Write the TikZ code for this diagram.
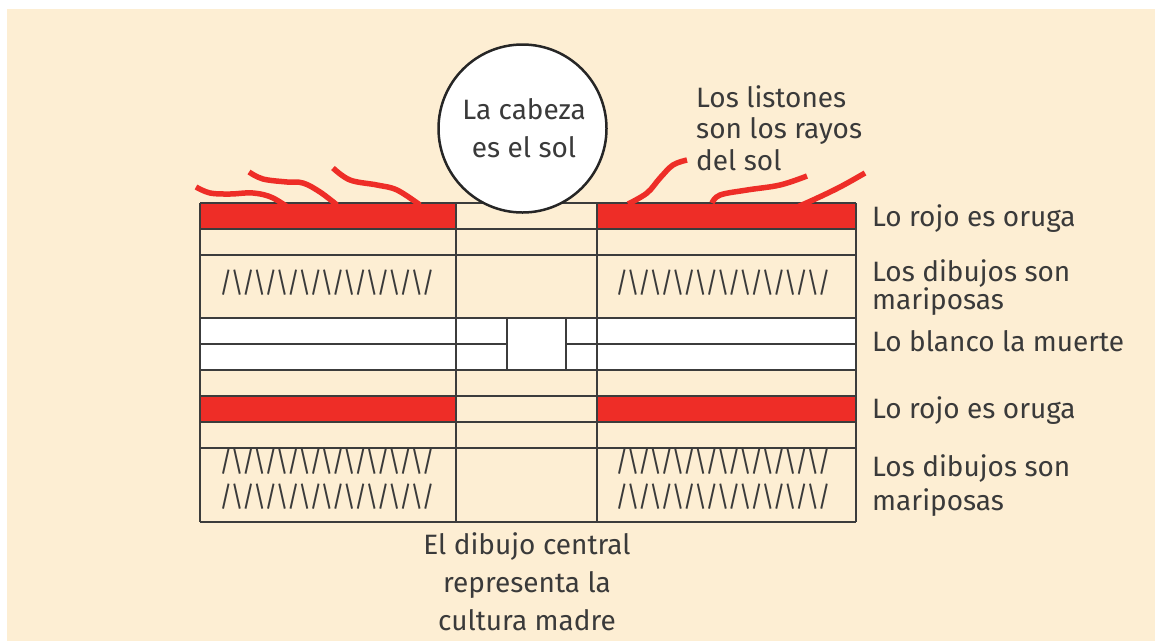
\documentclass[tikz,border=0pt]{standalone}
\usepackage{fontspec}
\setmainfont{Fira Sans}
\definecolor{cream}{HTML}{FDEED3}
\definecolor{rojo}{HTML}{EE2D27}
\definecolor{ink}{HTML}{3A3A3A}
\definecolor{frame}{HTML}{3C3C3C}
\newcommand{\zigtext}{\scalebox{0.86}[1]{/\kern-1.5pt\textbackslash\kern-1.5pt/\kern-1.5pt\textbackslash\kern-1.5pt/\kern-1.5pt\textbackslash\kern-1.5pt/\kern-1.5pt\textbackslash\kern-1.5pt/\kern-1.5pt\textbackslash\kern-1.5pt/\kern-1.5pt\textbackslash\kern-1.5pt/\kern-1.5pt\textbackslash\kern-1.5pt/\kern-1.5pt\textbackslash\kern-1.5pt/\kern-1.5pt\textbackslash\kern-1.5pt/}}
\tikzset{
  lbl/.style={inner sep=0pt, text=ink, font=\fontsize{28}{28}\selectfont, align=left},
  zig/.style={inner sep=0pt, text=ink, font=\fontsize{28}{28}\selectfont},
  gridline/.style={draw=frame, line width=1.5pt},
  ribbon/.style={draw=rojo, line width=5.5pt},
}
\begin{document}
\begin{tikzpicture}[x=1pt,y=-1pt]
\useasboundingbox (0,0) rectangle (1155,641);
\fill[white] (0,0) rectangle (1155,641);
\fill[cream] (7,9) rectangle (1155,641);
% fills
\fill[rojo] (200,203) rectangle (456,229);
\fill[rojo] (597,203) rectangle (856,229);
\fill[white] (200,318) rectangle (856,370);
\fill[rojo] (200,396) rectangle (456,422);
\fill[rojo] (597,396) rectangle (856,422);
% grid lines
\foreach \yy in {203,229,255,318,370,396,422,448,522}
  \draw[gridline] (200,\yy) -- (856,\yy);
\draw[gridline] (200,344) -- (507,344);
\draw[gridline] (566,344) -- (856,344);
\foreach \xx in {200,456,597,856}
  \draw[gridline] (\xx,203) -- (\xx,522);
\draw[gridline] (507,318) -- (507,370);
\draw[gridline] (566,318) -- (566,370);
% ribbons
\draw[ribbon] plot[smooth, tension=0.6] coordinates {(196,187) (210,193) (230,194) (253,193) (273,198) (296,213)};
\draw[ribbon] plot[smooth, tension=0.6] coordinates {(249,172) (263,179) (287,182) (303,183) (320,192) (337,205)};
\draw[ribbon] plot[smooth, tension=0.6] coordinates {(333,168) (350,180) (377,185) (397,190) (420,205)};
\draw[ribbon] plot[smooth, tension=0.6] coordinates {(628,204) (647,193) (660,178) (673,165) (687,160)};
\draw[ribbon] plot[smooth, tension=0.6] coordinates {(712,203) (720,195) (747,190) (780,185) (807,176)};
\draw[ribbon] plot[smooth, tension=0.6] coordinates {(788,211) (813,200) (840,187) (865,173)};
% head
\node[circle, draw=black!85, line width=2.5pt, fill=white, minimum size=168pt, inner sep=0pt] (head) at (522.5,128.5) {};
\node[lbl, align=center, anchor=base, font=\fontsize{28}{38.7}\selectfont] (headtxt) at (524,157.7) {La cabeza\\es el sol};
% zigzags
\node[zig, anchor=center] (z1) at (327,283) {\zigtext};
\node[zig, anchor=center] (z2) at (723,283) {\zigtext};
\node[zig, anchor=center] (z3) at (327,462) {\zigtext};
\node[zig, anchor=center] (z4) at (327,497) {\zigtext};
\node[zig, anchor=center] (z5) at (723,462) {\zigtext};
\node[zig, anchor=center] (z6) at (723,497) {\zigtext};
% labels
\node[lbl, anchor=base west, font=\fontsize{28}{31.5}\selectfont] (listones) at (696,170) {Los listones\\son los rayos\\del sol};
\node[lbl, anchor=base west] (rojo1) at (872,226) {Lo rojo es oruga};
\node[lbl, anchor=base west] (dib1) at (872,309) {Los dibujos son\\mariposas};
\node[lbl, anchor=base west] (blanco) at (872,351) {Lo blanco la muerte};
\node[lbl, anchor=base west] (rojo2) at (872,418) {Lo rojo es oruga};
\node[lbl, anchor=base west, font=\fontsize{28}{33.3}\selectfont] (dib2) at (872,510) {Los dibujos son\\mariposas};
\node[lbl, align=center, anchor=base, font=\fontsize{28}{38}\selectfont] (central) at (527,630.7) {El dibujo central\\representa la\\cultura madre};
\end{tikzpicture}
\end{document}
